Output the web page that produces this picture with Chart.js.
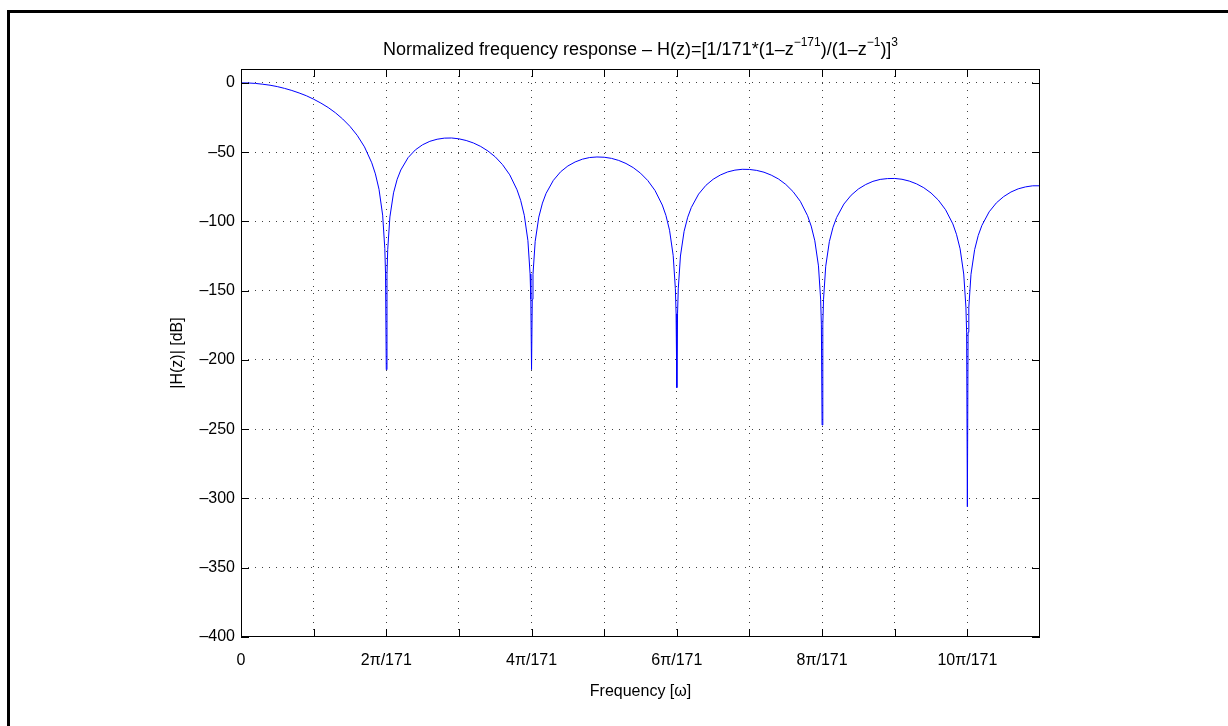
<!DOCTYPE html>
<html>
<head>
<meta charset="utf-8">
<script src="https://cdn.jsdelivr.net/npm/chart.js@4.4.1/dist/chart.umd.min.js"></script>
<style>
html,body{margin:0;padding:0;background:#fff;}
#wrap{position:relative;width:1228px;height:726px;}
canvas{display:block;}
</style>
</head>
<body>
<div id="wrap"><canvas id="c" width="1228" height="726"></canvas></div>
<script>
// Frequency in units of π/171
const freqX = [
  0,0.1,0.2,0.3,0.4,0.5,0.6,0.7,0.8,0.9,1.0,1.1,1.2,1.3,1.4,1.5,1.6,1.7,1.8,1.85,1.9,1.95,1.98,1.99,
  2.0,2.01,2.02,2.05,2.1,2.15,2.2,2.3,2.4,2.5,2.6,2.7,2.8,2.9,3.0,3.1,3.2,3.3,3.4,3.5,3.6,3.7,3.8,3.85,3.9,3.95,3.98,3.99,
  4.0,4.01,4.02,4.05,4.1,4.15,4.2,4.3,4.4,4.5,4.6,4.7,4.8,4.9,5.0,5.1,5.2,5.3,5.4,5.5,5.6,5.7,5.8,5.85,5.9,5.95,5.98,5.99,
  6.0,6.01,6.02,6.05,6.1,6.15,6.2,6.3,6.4,6.5,6.6,6.7,6.8,6.9,7.0,7.1,7.2,7.3,7.4,7.5,7.6,7.7,7.8,7.85,7.9,7.95,7.98,7.99,
  8.0,8.01,8.02,8.05,8.1,8.15,8.2,8.3,8.4,8.5,8.6,8.7,8.8,8.9,9.0,9.1,9.2,9.3,9.4,9.5,9.6,9.7,9.8,9.85,9.9,9.95,9.98,9.99,
  10.0,10.01,10.02,10.05,10.1,10.15,10.2,10.3,10.4,10.5,10.6,10.7,10.8,10.9,11.0
];
// |H(z)| in dB
const magDb = [
  0,-0.1,-0.4,-1.0,-1.7,-2.7,-4.0,-5.5,-7.3,-9.3,-11.8,-14.6,-17.8,-21.6,-26.1,-31.4,-37.9,-46.2,-57.7,-65.7,-76.8,-95.5,-119.7,-137.9,
  -207,-138.2,-120.3,-96.8,-79.4,-69.6,-62.9,-54.0,-48.4,-44.7,-42.2,-40.7,-39.9,-39.8,-40.4,-41.6,-43.4,-45.9,-49.2,-53.4,-59.0,-66.4,-77.2,-84.8,-95.6,-113.9,-137.9,-156.1,
  -207,-156.2,-138.2,-114.5,-96.9,-86.8,-79.8,-70.4,-64.2,-60.0,-57.1,-55.1,-53.9,-53.5,-53.7,-54.5,-56.0,-58.2,-61.2,-65.2,-70.5,-77.7,-88.2,-95.7,-106.4,-124.6,-148.5,-166.6,
  -220,-166.7,-148.7,-125.0,-107.2,-97.0,-89.9,-80.3,-74.0,-69.6,-66.5,-64.3,-63.0,-62.4,-62.5,-63.2,-64.5,-66.6,-69.4,-73.3,-78.5,-85.5,-95.9,-103.4,-114.0,-132.1,-156.1,-174.2,
  -247,-174.2,-156.2,-132.4,-114.6,-104.3,-97.2,-87.5,-81.1,-76.6,-73.4,-71.1,-69.7,-69.1,-69.0,-69.6,-70.9,-72.9,-75.7,-79.5,-84.6,-91.6,-101.8,-109.3,-119.8,-138.0,-161.9,-180.0,
  -306,-180.0,-162.0,-138.2,-120.4,-110.1,-102.9,-93.1,-86.6,-82.1,-78.8,-76.5,-75.1,-74.3,-74.3
];
const xTickValues = [0,1,2,3,4,5,6,7,8,9,10];
const xTickLabels = ['0','','2π/171','','4π/171','','6π/171','','8π/171','','10π/171'];
const yTickValues = [-400,-350,-300,-250,-200,-150,-100,-50,0];
const yTickLabels = ['\u2013400','\u2013350','\u2013300','\u2013250','\u2013200','\u2013150','\u2013100','\u201350','0'];
const titleParts = [
  {t:'Normalized frequency response \u2013 H(z)=[1/171*(1\u2013z', sup:false},
  {t:'\u2212171', sup:true},
  {t:')/(1\u2013z', sup:false},
  {t:'\u22121', sup:true},
  {t:')]', sup:false},
  {t:'3', sup:true}
];
const xAxisLabel = 'Frequency [ω]';
const yAxisLabel = '|H(z)| [dB]';

const FONT = '"Liberation Sans", Arial, Helvetica, sans-serif';

const decor = {
  id: 'decor',
  beforeDraw(chart) {
    const ctx = chart.ctx;
    ctx.save();
    ctx.fillStyle = '#fff';
    ctx.fillRect(0, 0, chart.width, chart.height);
    ctx.strokeStyle = '#000';
    ctx.lineWidth = 3;
    ctx.beginPath();
    ctx.moveTo(8.5, 740);
    ctx.lineTo(8.5, 11.5);
    ctx.lineTo(1240, 11.5);
    ctx.stroke();
    ctx.restore();
  },
  afterDraw(chart) {
    const ctx = chart.ctx;
    const a = chart.chartArea;
    const xs = chart.scales.x, ys = chart.scales.y;
    ctx.save();
    ctx.strokeStyle = '#000';
    ctx.lineWidth = 1;
    ctx.strokeRect(Math.round(a.left) + 0.5, Math.round(a.top) + 0.5, Math.round(a.right - a.left) - 1, Math.round(a.bottom - a.top) - 1);
    const TL = 8;
    ctx.beginPath();
    xTickValues.forEach(v => {
      const px = Math.round(xs.getPixelForValue(v)) + 0.5;
      ctx.moveTo(px, a.bottom); ctx.lineTo(px, a.bottom - TL);
      ctx.moveTo(px, a.top); ctx.lineTo(px, a.top + TL);
    });
    yTickValues.forEach(v => {
      const py = Math.round(ys.getPixelForValue(v)) + 0.5;
      ctx.moveTo(a.left, py); ctx.lineTo(a.left + TL, py);
      ctx.moveTo(a.right, py); ctx.lineTo(a.right - TL, py);
    });
    ctx.stroke();
    const size = 18, supSize = 12;
    let total = 0;
    titleParts.forEach(p => {
      ctx.font = (p.sup ? supSize : size) + 'px ' + FONT;
      total += ctx.measureText(p.t).width;
    });
    let x = (a.left + a.right) / 2 - total / 2;
    const base = 55;
    ctx.fillStyle = '#000';
    ctx.textBaseline = 'alphabetic';
    ctx.textAlign = 'left';
    titleParts.forEach(p => {
      ctx.font = (p.sup ? supSize : size) + 'px ' + FONT;
      ctx.fillText(p.t, x, p.sup ? base - 9 : base);
      x += ctx.measureText(p.t).width;
    });
    ctx.font = '16px ' + FONT;
    ctx.textAlign = 'center';
    ctx.textBaseline = 'middle';
    ctx.fillText(xAxisLabel, (a.left + a.right) / 2, 692);
    ctx.translate(178, (a.top + a.bottom) / 2);
    ctx.rotate(-Math.PI / 2);
    ctx.fillText(yAxisLabel, 0, 0);
    ctx.restore();
  }
};

const gridColor = 'rgba(0,0,0,0.75)';

new Chart(document.getElementById('c'), {
  type: 'line',
  data: {
    datasets: [{
      data: freqX.map((x, i) => ({x: x, y: magDb[i]})),
      borderColor: '#0000ff',
      borderWidth: 1,
      pointRadius: 0,
      tension: 0,
      fill: false
    }]
  },
  options: {
    responsive: false,
    animation: false,
    devicePixelRatio: 1,
    layout: {padding: {top: 69, right: 188, bottom: 0, left: 0}},
    plugins: {legend: {display: false}, title: {display: false}, tooltip: {enabled: false}},
    scales: {
      x: {
        type: 'linear', min: 0, max: 11,
        afterBuildTicks: s => { s.ticks = xTickValues.map(v => ({value: v})); },
        afterFit: s => { s.height = 89; },
        ticks: {
          autoSkip: false, maxRotation: 0, padding: 14, color: '#000',
          font: {family: FONT, size: 16},
          callback: (v, i) => xTickLabels[i]
        },
        grid: {
          color: c => (c.tick && c.tick.value === 0) ? 'rgba(0,0,0,0)' : gridColor,
          lineWidth: 1, drawTicks: false
        },
        border: {display: false, dash: [1, 6]}
      },
      y: {
        type: 'linear', min: -400, max: 10,
        afterBuildTicks: s => { s.ticks = yTickValues.map(v => ({value: v})); },
        afterFit: s => { s.width = 241; },
        ticks: {
          autoSkip: false, padding: 6, color: '#000',
          font: {family: FONT, size: 16},
          callback: (v, i) => yTickLabels[i]
        },
        grid: {
          color: c => (c.tick && c.tick.value === -400) ? 'rgba(0,0,0,0)' : gridColor,
          lineWidth: 1, drawTicks: false
        },
        border: {display: false, dash: [1, 6]}
      }
    }
  },
  plugins: [decor]
});
</script>
</body>
</html>
